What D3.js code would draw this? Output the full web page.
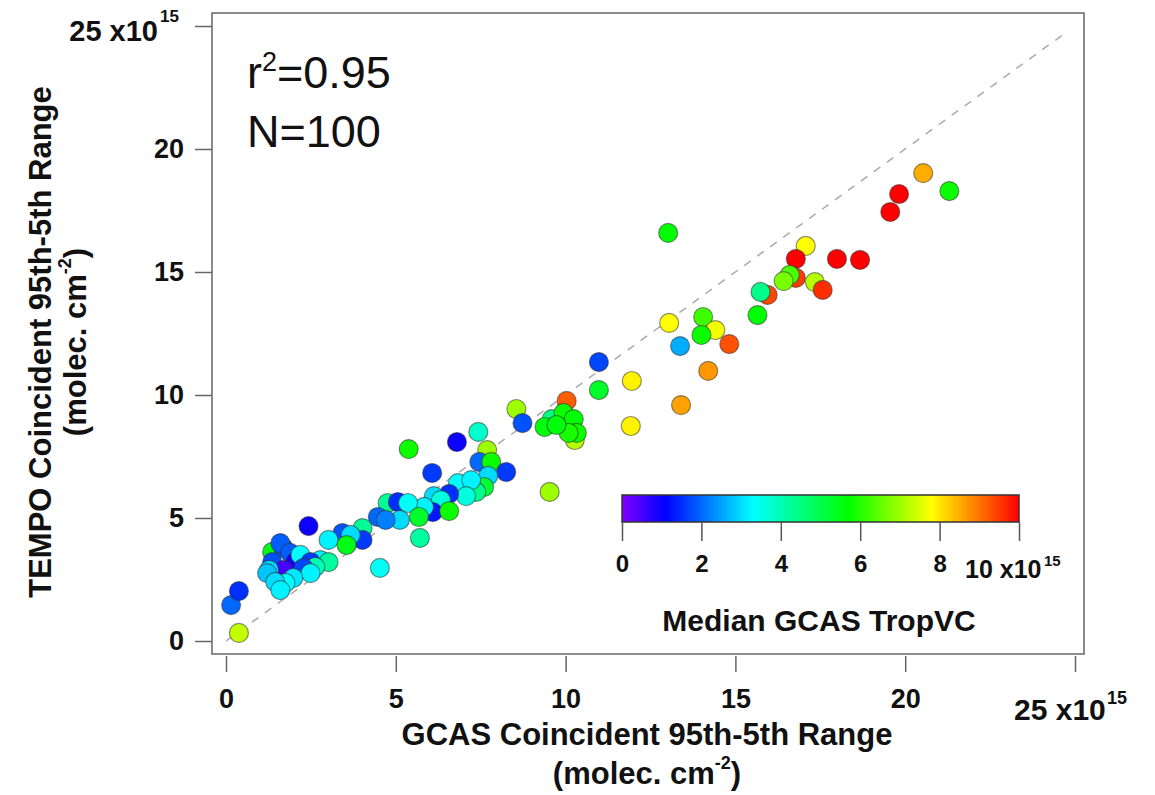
<!DOCTYPE html>
<html>
<head>
<meta charset="utf-8">
<script src="https://cdn.jsdelivr.net/npm/d3@7"></script>
<style>
  html, body { margin: 0; padding: 0; background: #fff; }
  svg { display: block; font-family: "Liberation Sans", Arial, Helvetica, sans-serif; }
</style>
</head>
<body>
<svg id="chart" width="1155" height="795"></svg>
<script>
// GCAS coincident 95th-5th range (x10^15 molec. cm^-2)
const gcasRange = [
  20.53, 21.30, 19.82, 19.56, 17.07, 16.78, 17.99, 18.67, 16.78, 16.60,
  16.42, 17.34, 17.57, 15.95, 15.74, 15.65, 13.02, 13.05, 14.05, 14.41,
  14.00, 14.82, 13.37, 10.98, 11.95, 14.20, 10.98, 13.40, 11.92, 10.03,
  9.59, 9.94, 9.38, 10.24, 10.27, 10.33, 10.09, 9.73, 8.55, 8.73,
  9.53, 5.38, 6.80, 7.43, 7.69, 7.46, 7.81, 8.25, 6.07, 7.72,
  7.60, 7.37, 6.83, 7.22, 7.07, 6.57, 6.12, 6.33, 6.09, 6.57,
  5.83, 4.76, 5.06, 5.36, 5.12, 5.68, 5.71, 4.47, 4.70, 4.02,
  4.02, 3.43, 3.67, 3.02, 3.55, 2.78, 3.02, 4.53, 2.43, 1.36,
  1.69, 1.60, 1.89, 1.36, 2.04, 2.19, 2.49, 2.63, 2.28, 1.69,
  1.27, 1.21, 2.49, 1.98, 1.75, 1.45, 1.60, 0.38, 0.15, 0.38
];
// TEMPO coincident 95th-5th range (x10^15 molec. cm^-2)
const tempoRange = [
  19.02, 18.29, 18.17, 17.44, 16.06, 15.53, 15.53, 15.49, 14.76, 14.88,
  14.63, 14.59, 14.27, 14.07, 14.19, 13.25, 16.59, 12.93, 13.17, 12.64,
  12.44, 12.07, 11.99, 11.34, 10.57, 10.98, 10.20, 9.59, 8.74, 9.76,
  9.02, 9.27, 8.70, 9.02, 8.17, 8.46, 8.46, 8.78, 9.43, 8.86,
  6.06, 7.80, 8.09, 8.50, 7.76, 7.28, 7.28, 6.87, 6.83, 6.71,
  6.26, 6.06, 6.42, 6.54, 5.89, 5.98, 5.89, 5.73, 5.24, 5.28,
  5.45, 5.61, 5.65, 5.61, 4.92, 5.04, 4.19, 5.04, 4.92, 4.59,
  4.11, 4.39, 4.31, 4.11, 3.90, 3.29, 3.21, 2.97, 4.67, 3.62,
  3.78, 3.98, 3.58, 3.21, 3.21, 3.50, 3.21, 3.01, 2.97, 2.89,
  2.89, 2.76, 2.76, 2.56, 2.36, 2.40, 2.07, 0.33, 1.46, 2.03
];
// Median GCAS tropospheric vertical column (x10^15 molec. cm^-2)
const medianTropVC = [
  8.5, 5.8, 10.0, 10.0, 7.8, 10.0, 10.0, 10.0, 9.5, 6.3,
  6.7, 7.2, 9.6, 9.4, 4.4, 5.7, 5.7, 7.8, 6.2, 7.7,
  5.8, 9.3, 2.6, 1.7, 7.9, 8.7, 5.3, 8.6, 7.9, 9.2,
  4.5, 5.8, 5.6, 5.7, 7.2, 5.8, 5.9, 5.6, 7.0, 1.8,
  7.0, 5.8, 1.0, 3.8, 7.0, 2.0, 5.8, 1.6, 1.6, 3.0,
  5.2, 4.4, 3.3, 3.2, 3.6, 1.5, 3.0, 3.6, 1.3, 5.8,
  3.2, 4.3, 1.5, 3.4, 3.0, 5.3, 4.2, 2.0, 2.2, 4.3,
  1.6, 1.8, 3.0, 3.2, 5.5, 3.2, 4.2, 3.4, 1.0, 5.5,
  1.8, 1.9, 1.9, 1.8, 0.9, 3.3, 1.6, 4.0, 1.7, 0.5,
  3.0, 2.8, 3.2, 3.1, 3.3, 3.0, 3.2, 7.3, 2.0, 1.5
];

const xTicks = [0, 5, 10, 15, 20, 25];
const yTicks = [0, 5, 10, 15, 20, 25];
const cbTicks = [0, 2, 4, 6, 8, 10];
const fitStats = { r2: "0.95", n: 100 };

const points = gcasRange.map((x, i) => ({ x, y: tempoRange[i], c: medianTropVC[i] }));

const svg = d3.select("#chart");

// plot frame
const frame = { left: 212, right: 1084, top: 13, bottom: 654 };

const x = d3.scaleLinear().domain([0, 25]).range([226, 1075]);
const y = d3.scaleLinear().domain([0, 25]).range([641, 26]);

// rainbow colour table: violet -> blue -> cyan -> green -> yellow -> red
const colorStops = [0, 1.1, 3.3, 5.7, 7.8, 10];
const colorRange = ["#8000ff", "#0000ff", "#00ffff", "#00ff00", "#ffff00", "#ff0000"];
const color = d3.scaleLinear().domain(colorStops).range(colorRange).clamp(true);

const axisGray = "#666";
const ink = "#111";
const tickFont = 27;

// frame
svg.append("rect")
  .attr("x", frame.left).attr("y", frame.top)
  .attr("width", frame.right - frame.left)
  .attr("height", frame.bottom - frame.top)
  .attr("fill", "none").attr("stroke", axisGray).attr("stroke-width", 1.5);

// y axis (ticks to the left of the frame)
const yAxis = d3.axisLeft(y).tickValues(yTicks).tickSize(17).tickPadding(11)
  .tickFormat(d => d === 25 ? "" : d);
const gy = svg.append("g").attr("transform", `translate(${frame.left},0)`).call(yAxis);
gy.select(".domain").remove();
gy.selectAll(".tick line").attr("stroke", axisGray).attr("stroke-width", 1.5);
gy.selectAll(".tick text")
  .attr("font-size", tickFont).attr("font-weight", "bold").attr("fill", ink);

// y axis top label with exponent
svg.append("text")
  .attr("x", 158).attr("y", y(25) + 15)
  .attr("text-anchor", "end")
  .attr("font-size", 29).attr("font-weight", "bold").attr("fill", ink)
  .text("25 x10");
svg.append("text")
  .attr("x", 160).attr("y", 22)
  .attr("font-size", 17).attr("font-weight", "bold").attr("fill", ink)
  .text("15");

// x axis (ticks below the frame)
const xAxis = d3.axisBottom(x).tickValues(xTicks).tickSize(16).tickPadding(17)
  .tickFormat(d => d === 25 ? "" : d);
const gx = svg.append("g").attr("transform", `translate(0,${frame.bottom + 2})`).call(xAxis);
gx.select(".domain").remove();
gx.selectAll(".tick line").attr("stroke", axisGray).attr("stroke-width", 1.5);
gx.selectAll(".tick text")
  .attr("font-size", tickFont).attr("font-weight", "bold").attr("fill", ink);

svg.append("text")
  .attr("x", 1014).attr("y", 720)
  .attr("font-size", 30).attr("font-weight", "bold").attr("fill", ink)
  .text("25 x10");
svg.append("text")
  .attr("x", 1107).attr("y", 704)
  .attr("font-size", 18).attr("font-weight", "bold").attr("fill", ink)
  .text("15");

// axis titles
const titleFont = 31;
const xTitle = svg.append("g").attr("font-weight", "bold").attr("fill", ink)
  .attr("text-anchor", "middle");
xTitle.append("text").attr("x", 647).attr("y", 745).attr("font-size", titleFont)
  .text("GCAS Coincident 95th-5th Range");
const xUnits = xTitle.append("text").attr("x", 647).attr("y", 784).attr("font-size", titleFont);
xUnits.append("tspan").text("(molec. cm");
xUnits.append("tspan").attr("dy", -15).attr("font-size", 18).text("-2");
xUnits.append("tspan").attr("dy", 15).text(")");

const yTitle = svg.append("g").attr("font-weight", "bold").attr("fill", ink)
  .attr("text-anchor", "middle")
  .attr("transform", "translate(0,342) rotate(-90)");
yTitle.append("text").attr("x", 0).attr("y", 51).attr("font-size", titleFont)
  .text("TEMPO Coincident 95th-5th Range");
const yUnits = yTitle.append("text").attr("x", 0).attr("y", 86).attr("font-size", titleFont);
yUnits.append("tspan").text("(molec. cm");
yUnits.append("tspan").attr("dy", -15).attr("font-size", 18).text("-2");
yUnits.append("tspan").attr("dy", 15).text(")");

// 1:1 reference line
svg.append("line")
  .attr("x1", x(0)).attr("y1", y(0))
  .attr("x2", x(24.7)).attr("y2", y(24.7))
  .attr("stroke", "#aaa").attr("stroke-width", 1.5)
  .attr("stroke-dasharray", "8,8");

// scatter points
svg.append("g").selectAll("circle")
  .data(points)
  .join("circle")
  .attr("cx", d => x(d.x))
  .attr("cy", d => y(d.y))
  .attr("r", 9.5)
  .attr("fill", d => color(d.c))
  .attr("stroke", "#333")
  .attr("stroke-opacity", 0.55)
  .attr("stroke-width", 1.2);

// statistics annotation
const stats = svg.append("g").attr("fill", ink).attr("font-size", 45);
const r2 = stats.append("text").attr("x", 247).attr("y", 88);
r2.append("tspan").text("r");
r2.append("tspan").attr("dy", -17).attr("font-size", 27).text("2");
r2.append("tspan").attr("dy", 17).text("=" + fitStats.r2);
stats.append("text").attr("x", 247).attr("y", 147).text("N=" + fitStats.n);

// colour bar
const cb = { x0: 622, x1: 1019, y0: 495, y1: 522 };
const cbScale = d3.scaleLinear().domain([0, 10]).range([cb.x0, cb.x1]);

const defs = svg.append("defs");
const grad = defs.append("linearGradient").attr("id", "rainbow")
  .attr("x1", "0%").attr("x2", "100%").attr("y1", "0%").attr("y2", "0%");
colorStops.forEach((s, i) => {
  grad.append("stop").attr("offset", (s / 10 * 100) + "%").attr("stop-color", colorRange[i]);
});

svg.append("rect")
  .attr("x", cb.x0).attr("y", cb.y0)
  .attr("width", cb.x1 - cb.x0).attr("height", cb.y1 - cb.y0)
  .attr("fill", "url(#rainbow)")
  .attr("stroke", "#333").attr("stroke-width", 1.5);

const cbAxis = d3.axisBottom(cbScale).tickValues(cbTicks).tickSize(19).tickPadding(14)
  .tickFormat(d => d === 10 ? "" : d);
const gcb = svg.append("g").attr("transform", `translate(0,${cb.y1})`).call(cbAxis);
gcb.select(".domain").remove();
gcb.selectAll(".tick line").attr("stroke", "#555").attr("stroke-width", 1.5);
gcb.selectAll(".tick text")
  .attr("font-size", 24).attr("font-weight", "bold").attr("fill", ink);

svg.append("text")
  .attr("x", 965).attr("y", 578)
  .attr("font-size", 25).attr("font-weight", "bold").attr("fill", ink)
  .text("10 x10");
svg.append("text")
  .attr("x", 1044).attr("y", 566)
  .attr("font-size", 15).attr("font-weight", "bold").attr("fill", ink)
  .text("15");

svg.append("text")
  .attr("x", 819).attr("y", 631)
  .attr("text-anchor", "middle")
  .attr("font-size", 30).attr("font-weight", "bold").attr("fill", ink)
  .text("Median GCAS TropVC");
</script>
</body>
</html>
